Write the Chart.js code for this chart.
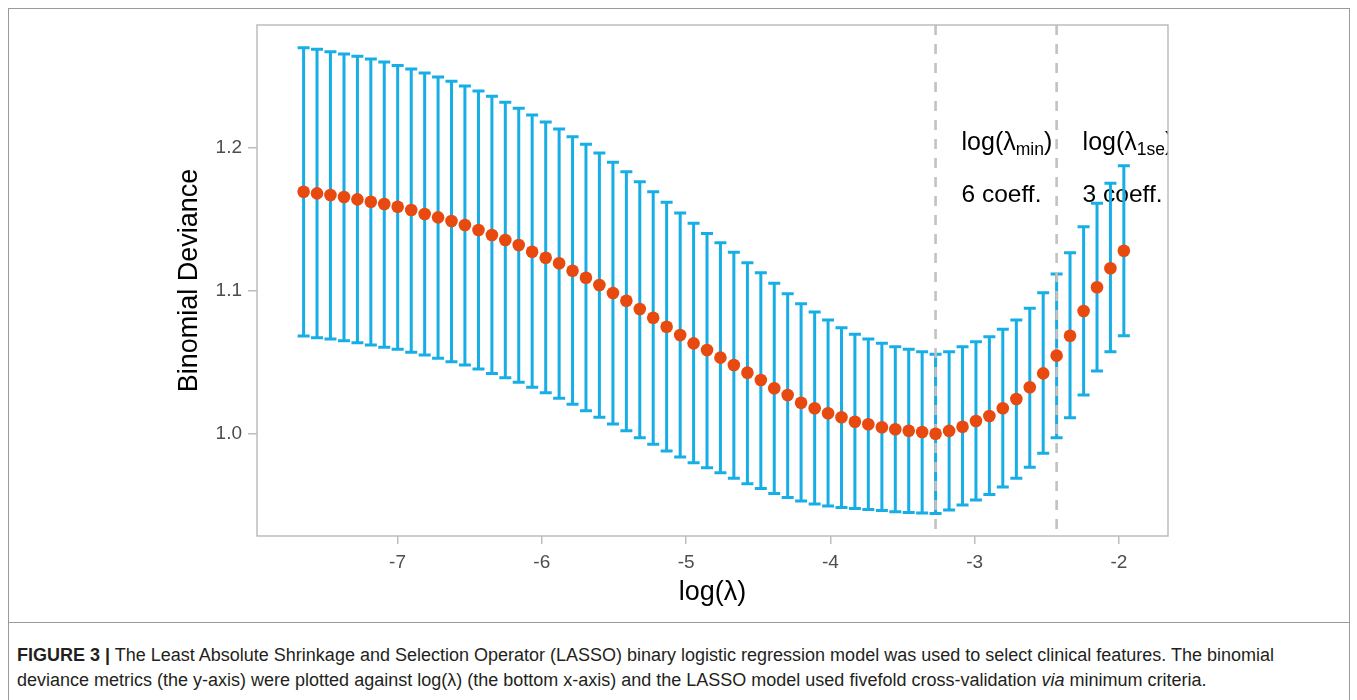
<!DOCTYPE html>
<html>
<head>
<meta charset="utf-8">
<script src="https://cdn.jsdelivr.net/npm/chart.js@4.4.0/dist/chart.umd.min.js"></script>
<style>
    html, body { margin: 0; padding: 0; background: #fff; }
    body { width: 1357px; height: 700px; position: relative; overflow: hidden; font-family: "Liberation Sans", Arial, sans-serif; }
    #frame { position: absolute; left: 8px; top: 8px; width: 1342px; height: 700px; border: 1px solid #9a9a9a; box-sizing: border-box; }
    #rule { position: absolute; left: 8px; top: 622px; width: 1342px; height: 1px; background: #9a9a9a; }
    #chartBox { position: absolute; left: 0; top: 0; width: 1357px; height: 620px; }
    #caption { position: absolute; left: 17px; top: 643px; font-size: 18px; line-height: 25px; color: #231f20; white-space: nowrap; }
</style>
</head>
<body>
<div id="frame"></div>
<div id="rule"></div>
<div id="chartBox"><canvas id="cv"></canvas></div>
<div id="caption"><b>FIGURE 3 |</b> The Least Absolute Shrinkage and Selection Operator (LASSO) binary logistic regression model was used to select clinical features. The binomial<br>deviance metrics (the y-axis) were plotted against log(&lambda;) (the bottom x-axis) and the LASSO model used fivefold cross-validation <i>via</i> minimum criteria.</div>
<script>
var logLambda = [
    -7.651, -7.558, -7.465, -7.371, -7.278, -7.185, -7.092, -6.999, -6.905, -6.812,
    -6.719, -6.626, -6.533, -6.439, -6.346, -6.253, -6.160, -6.067, -5.973, -5.880,
    -5.787, -5.694, -5.601, -5.507, -5.414, -5.321, -5.228, -5.135, -5.041, -4.948,
    -4.855, -4.762, -4.669, -4.575, -4.482, -4.389, -4.296, -4.203, -4.109, -4.016,
    -3.923, -3.830, -3.737, -3.643, -3.550, -3.457, -3.364, -3.271, -3.177, -3.084,
    -2.991, -2.898, -2.805, -2.711, -2.618, -2.525, -2.432, -2.339, -2.245, -2.152,
    -2.059, -1.966
];
var meanDeviance = [
    1.1694, 1.1683, 1.1671, 1.1657, 1.1641, 1.1624, 1.1608, 1.1589, 1.1566, 1.1538,
    1.1515, 1.1490, 1.1462, 1.1427, 1.1392, 1.1357, 1.1322, 1.1275, 1.1233, 1.1194,
    1.1142, 1.1093, 1.1042, 1.0986, 1.0932, 1.0874, 1.0813, 1.0750, 1.0692, 1.0634,
    1.0587, 1.0534, 1.0483, 1.0429, 1.0378, 1.0320, 1.0273, 1.0219, 1.0180, 1.0145,
    1.0117, 1.0086, 1.0068, 1.0047, 1.0033, 1.0023, 1.0014, 1.0002, 1.0022, 1.0051,
    1.0091, 1.0126, 1.0180, 1.0245, 1.0327, 1.0424, 1.0548, 1.0687, 1.0860, 1.1026,
    1.1159, 1.1282
];
var upperDeviance = [
    1.2701, 1.2690, 1.2673, 1.2657, 1.2641, 1.2622, 1.2601, 1.2576, 1.2552, 1.2524,
    1.2497, 1.2466, 1.2434, 1.2399, 1.2362, 1.2320, 1.2278, 1.2231, 1.2182, 1.2133,
    1.2079, 1.2026, 1.1965, 1.1900, 1.1834, 1.1764, 1.1694, 1.1620, 1.1545, 1.1473,
    1.1403, 1.1338, 1.1271, 1.1198, 1.1128, 1.1054, 1.0981, 1.0911, 1.0853, 1.0797,
    1.0743, 1.0697, 1.0664, 1.0634, 1.0610, 1.0592, 1.0576, 1.0557, 1.0576, 1.0610,
    1.0645, 1.0680, 1.0732, 1.0797, 1.0879, 1.0988, 1.1119, 1.1268, 1.1450, 1.1613,
    1.1753, 1.1876
];
var lowerDeviance = [
    1.0685, 1.0673, 1.0664, 1.0652, 1.0638, 1.0622, 1.0606, 1.0592, 1.0571, 1.0552,
    1.0529, 1.0506, 1.0483, 1.0455, 1.0424, 1.0394, 1.0362, 1.0327, 1.0289, 1.0250,
    1.0208, 1.0163, 1.0117, 1.0070, 1.0023, 0.9974, 0.9928, 0.9881, 0.9839, 0.9799,
    0.9764, 0.9729, 0.9690, 0.9652, 0.9620, 0.9585, 0.9557, 0.9531, 0.9510, 0.9497,
    0.9487, 0.9480, 0.9473, 0.9466, 0.9457, 0.9452, 0.9448, 0.9444, 0.9469, 0.9503,
    0.9538, 0.9578, 0.9629, 0.9690, 0.9767, 0.9865, 0.9974, 1.0114, 1.0273, 1.0441,
    1.0576, 1.0687
];

var xTickValues = [-7, -6, -5, -4, -3, -2];
var yTickValues = [1.0, 1.1, 1.2];

// lambda.min and lambda.1se
var cutLines = [-3.271, -2.432];
var cutSubscripts = ['min', '1se'];
var cutCoefs = ['6 coeff.', '3 coeff.'];

var FONT = '"Liberation Sans", Arial, sans-serif';
var BLUE = '#17aee6';
var ORANGE = '#e8490f';

var drawLambdaLabel = function(ctx, x, y, sub) {
    ctx.font = '25px ' + FONT;
    ctx.fillText('log(\u03bb', x, y);
    var w = ctx.measureText('log(\u03bb').width;
    ctx.font = '17.5px ' + FONT;
    ctx.fillText(sub, x + w, y + 5);
    var w2 = ctx.measureText(sub).width;
    ctx.font = '25px ' + FONT;
    ctx.fillText(')', x + w + w2, y);
};

var cvPlotPlugin = {
    id: 'cvPlot',
    beforeDatasetsDraw: function(chart) {
        var ctx = chart.ctx;
        var area = chart.chartArea;
        var xs = chart.scales.x;
        var ys = chart.scales.y;

        ctx.save();
        ctx.beginPath();
        ctx.rect(area.left, area.top, area.right - area.left, area.bottom - area.top);
        ctx.clip();

        // labels next to the cut lines
        ctx.fillStyle = '#000';
        ctx.textBaseline = 'alphabetic';
        ctx.textAlign = 'left';
        for (var c = 0; c < cutLines.length; c++) {
            var tx = xs.getPixelForValue(cutLines[c]) + 26;
            drawLambdaLabel(ctx, tx, area.top + 125, cutSubscripts[c]);
            ctx.font = '24.5px ' + FONT;
            ctx.fillText(cutCoefs[c], tx, area.top + 177);
        }

        // error bars
        ctx.strokeStyle = BLUE;
        ctx.lineWidth = 3;
        ctx.lineCap = 'butt';
        for (var i = 0; i < logLambda.length; i++) {
            var x = xs.getPixelForValue(logLambda[i]);
            var yTop = ys.getPixelForValue(upperDeviance[i]);
            var yBot = ys.getPixelForValue(lowerDeviance[i]);
            ctx.beginPath();
            ctx.moveTo(x, yTop);
            ctx.lineTo(x, yBot);
            ctx.moveTo(x - 6, yTop);
            ctx.lineTo(x + 6, yTop);
            ctx.moveTo(x - 6, yBot);
            ctx.lineTo(x + 6, yBot);
            ctx.stroke();
        }

        // dashed cut lines
        ctx.strokeStyle = '#c2c2c2';
        ctx.lineWidth = 2.6;
        ctx.setLineDash([10, 9]);
        for (var k = 0; k < cutLines.length; k++) {
            var lx = xs.getPixelForValue(cutLines[k]);
            ctx.beginPath();
            ctx.moveTo(lx, area.top);
            ctx.lineTo(lx, area.bottom);
            ctx.stroke();
        }
        ctx.restore();
    },
    afterDraw: function(chart) {
        var ctx = chart.ctx;
        var area = chart.chartArea;
        ctx.save();
        ctx.strokeStyle = '#bdbdbd';
        ctx.lineWidth = 1.5;
        ctx.strokeRect(area.left, area.top, area.right - area.left, area.bottom - area.top);
        ctx.restore();
    }
};

var points = [];
for (var i = 0; i < logLambda.length; i++) {
    points.push({ x: logLambda[i], y: meanDeviance[i] });
}

new Chart(document.getElementById('cv'), {
    type: 'scatter',
    data: {
        datasets: [{
            label: 'mean',
            data: points,
            pointRadius: 6.3,
            pointHoverRadius: 6.3,
            pointBackgroundColor: ORANGE,
            pointBorderWidth: 0,
            showLine: false
        }]
    },
    plugins: [cvPlotPlugin],
    options: {
        responsive: true,
        maintainAspectRatio: false,
        animation: false,
        events: [],
        layout: { padding: { left: 0, right: 189, top: 25, bottom: 0 } },
        plugins: {
            legend: { display: false },
            tooltip: { enabled: false }
        },
        scales: {
            x: {
                type: 'linear',
                min: -7.974,
                max: -1.66,
                afterBuildTicks: function(scale) {
                    scale.ticks = xTickValues.map(function(v) { return { value: v }; });
                },
                afterFit: function(scale) { scale.height = 84; },
                border: { display: false },
                grid: { drawOnChartArea: false, drawTicks: true, tickLength: 8, color: '#bdbdbd', lineWidth: 1.5 },
                ticks: {
                    padding: 7,
                    color: '#4d4d4d',
                    font: { family: FONT, size: 19 },
                    callback: function(v) { return String(v); }
                },
                title: {
                    display: true,
                    text: 'log(\u03bb)',
                    color: '#000',
                    font: { family: FONT, size: 27 },
                    padding: { top: 0, bottom: 10.8 }
                }
            },
            y: {
                type: 'linear',
                min: 0.9287,
                max: 1.286,
                afterBuildTicks: function(scale) {
                    scale.ticks = yTickValues.map(function(v) { return { value: v }; });
                },
                afterFit: function(scale) { scale.width = 257; },
                border: { display: false },
                grid: { drawOnChartArea: false, drawTicks: true, tickLength: 9, color: '#bdbdbd', lineWidth: 1.5 },
                ticks: {
                    padding: 6,
                    color: '#4d4d4d',
                    font: { family: FONT, size: 19 },
                    callback: function(v) { return v.toFixed(1); }
                },
                title: {
                    display: true,
                    text: 'Binomial Deviance',
                    color: '#000',
                    font: { family: FONT, size: 27 },
                    padding: { top: 173, bottom: 0 }
                }
            }
        }
    }
});
</script>
</body>
</html>
